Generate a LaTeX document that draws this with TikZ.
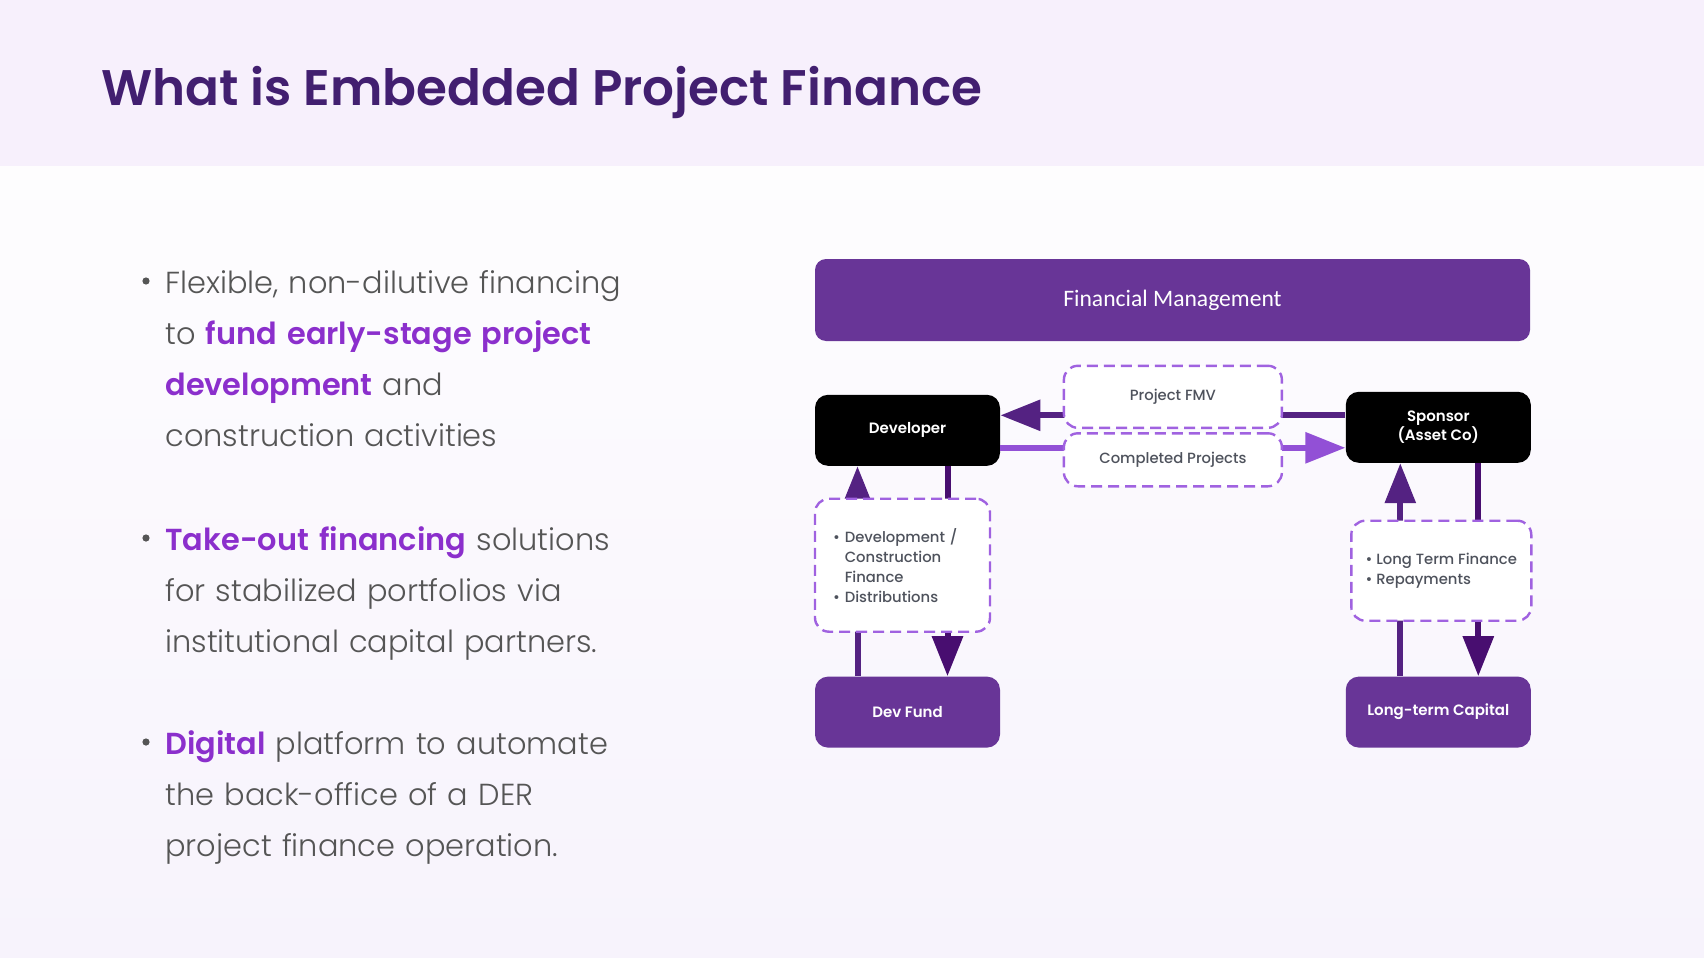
\documentclass[tikz,border=0pt]{standalone}
\usepackage{fontspec}
\setmainfont{Poppins}
\newfontfamily\lightfont{Poppins}[UprightFont={* Light},BoldFont={* SemiBold}]
\newfontfamily\semifont{Poppins}[UprightFont={* SemiBold}]
\newfontfamily\medfont{Poppins}[UprightFont={* Medium}]
\newfontfamily\calfont{Carlito}
\usepackage{xcolor}
\usepackage{tikz}
\usetikzlibrary{arrows.meta,positioning,calc}
\definecolor{titlepurple}{RGB}{66,31,112}
\definecolor{bandbg}{RGB}{247,240,252}
\definecolor{bodybot}{RGB}{247,243,252}
\definecolor{hl}{RGB}{139,47,204}
\definecolor{bodygray}{RGB}{85,85,85}
\definecolor{boxpurple}{RGB}{104,53,151}
\definecolor{dashpurple}{RGB}{160,98,224}
\definecolor{flowdark}{RGB}{84,34,130}
\definecolor{flowdeep}{RGB}{72,14,112}
\definecolor{flowlight}{RGB}{146,80,214}
\definecolor{labelgray}{RGB}{78,82,92}
\newcommand{\keyw}[1]{{\bfseries\color{hl}#1}}
\tikzstyle{bullettext} = [anchor=base west, inner sep=0pt, text=bodygray, text width=320pt, align=left, font=\lightfont\fontsize{15.2}{25.5}\selectfont]
\tikzstyle{bulletdot} = [circle, fill=bodygray, inner sep=0pt, minimum size=3.6pt]
\tikzstyle{blackbox} = [rectangle, fill=black, text=white, rounded corners=6.5pt, minimum width=92.5pt, minimum height=35.5pt, inner sep=0pt, align=center, font=\semifont\fontsize{7.5}{9.5}\selectfont]
\tikzstyle{fundbox} = [blackbox, fill=boxpurple]
\tikzstyle{dashbox} = [rectangle, draw=dashpurple, fill=white, line width=1.2pt, dash pattern=on 5.5pt off 3pt, rounded corners=7pt, inner sep=0pt, text=labelgray, font=\medfont\fontsize{7.4}{10}\selectfont]
\tikzstyle{flow} = [draw, line width=3pt, -{Triangle[length=20pt,width=15pt]}]

\begin{document}
\begin{tikzpicture}[x=0.5pt, y=-0.5pt]
    % page and title band
    \shade[top color=white, bottom color=bodybot] (0,0) rectangle (1704,958);
    \fill[bandbg] (0,0) rectangle (1704,166);
    \useasboundingbox (0,0) rectangle (1704,958);
    \node[anchor=base west, inner sep=0pt, text=titlepurple, font=\semifont\fontsize{25}{30}\selectfont] (title) at (101,105) {What is Embedded Project Finance};

    % bullets
    \node[bulletdot] (dot1) at (146,281) {};
    \node[bullettext] (b1) at (165,293) {Flexible, non-dilutive financing\\to \keyw{fund early-stage project}\\\keyw{development} and\\construction activities};
    \node[bulletdot] (dot2) at (146,538) {};
    \node[bullettext] (b2) at (165,550) {\keyw{Take-out financing} solutions\\for stabilized portfolios via\\institutional capital partners.};
    \node[bulletdot] (dot3) at (146,742) {};
    \node[bullettext] (b3) at (165,754) {\keyw{Digital} platform to automate\\the back-office of a DER\\project finance operation.};

    % diagram
    \node[rectangle, fill=boxpurple, text=white, rounded corners=5.5pt, minimum width=357.5pt, minimum height=41pt, font=\calfont\fontsize{11.8}{14}\selectfont] (fm) at (1172.5,300) {Financial Management};
    \node[blackbox, below=26.5pt of fm.south west, anchor=north west] (dev) {Developer};
    \node[blackbox, right=172.5pt of dev, yshift=1.5pt] (spon) {Sponsor\\(Asset Co)};
    \node[fundbox, below=105pt of dev] (fund) {Dev Fund};
    \node[fundbox, below=105pt of dev.south -| spon.south] (ltc) {Long-term Capital};

    \coordinate (fmvR) at ([yshift=6pt]spon.west);
    \coordinate (cpL) at ([yshift=-8.75pt]dev.east);
    \coordinate (devUp) at ([xshift=-25pt]dev.south);
    \coordinate (devDn) at ([xshift=20pt]dev.south);
    \coordinate (sponUp) at ([xshift=-19pt]spon.south);
    \coordinate (sponDn) at ([xshift=20pt]spon.south);

    \path[flow, draw=flowdark] (fmvR) -- (dev.east |- fmvR);
    \path[flow, draw=flowlight] (cpL) -- (spon.west |- cpL);
    \path[flow, draw=flowdark] (fund.north -| devUp) -- (devUp);
    \path[flow, draw=flowdeep] (devDn) -- (fund.north -| devDn);
    \path[flow, draw=flowdark] (ltc.north -| sponUp) -- (sponUp);
    \path[flow, draw=flowdeep] (sponDn) -- (ltc.north -| sponDn);

    \node[dashbox, minimum width=109pt, minimum height=31pt] (fmv) at ($(dev.east)!0.5!(spon.west)+(0,-32)$) {Project FMV};
    \node[dashbox, minimum width=109pt, minimum height=26.5pt] (cp) at ($(dev.east)!0.5!(spon.west)+(0,31)$) {Completed Projects};
    \node[dashbox, align=left, inner xsep=9pt, text width=69.5pt, minimum height=66.5pt] (devfin) at ($(dev.south)!0.5!(fund.north)+(-5,-6)$) {\textbullet\ Development /\\\hphantom{\textbullet\ }Construction\\\hphantom{\textbullet\ }Finance\\\textbullet\ Distributions};
    \node[dashbox, align=left, minimum width=90pt, minimum height=50pt] (ltfin) at ($(spon.south)!0.5!(ltc.north)+(3,1)$) {\textbullet\ Long Term Finance\\\textbullet\ Repayments};
\end{tikzpicture}
\end{document}
